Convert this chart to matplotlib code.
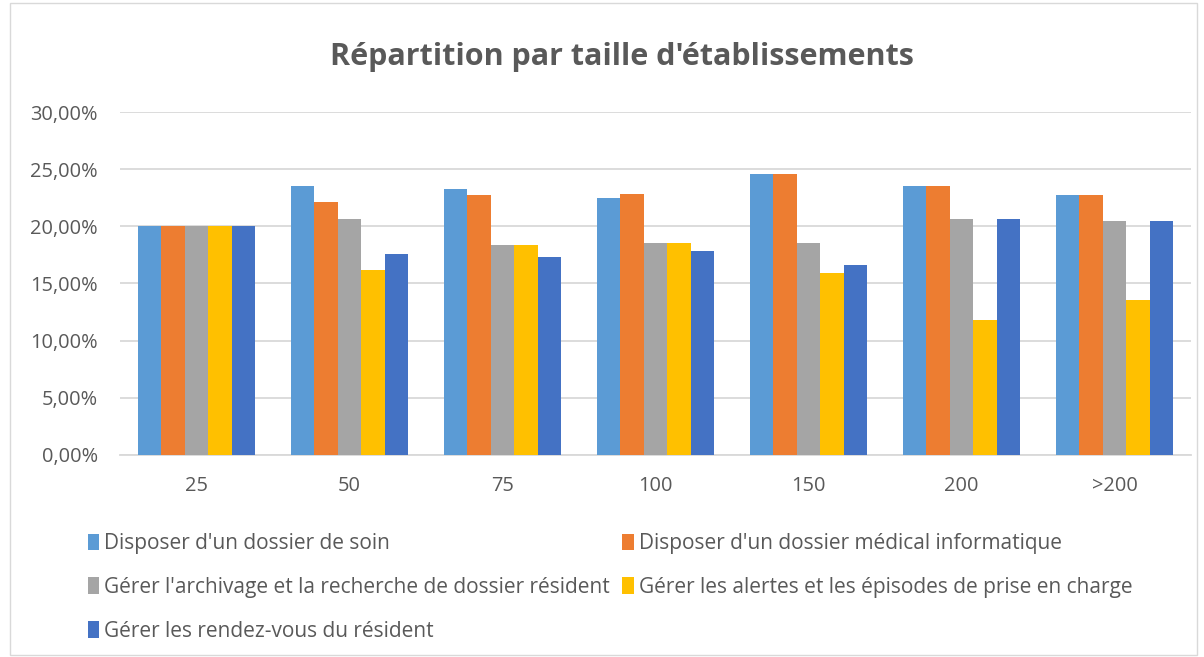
import numpy as np
import matplotlib.pyplot as plt
from matplotlib.patches import Rectangle, Patch
from matplotlib.ticker import FuncFormatter

categories = ["25", "50", "75", "100", "150", "200", ">200"]
series_names = [
    "Disposer d'un dossier de soin",
    "Disposer d'un dossier médical informatique",
    "Gérer l'archivage et la recherche de dossier résident",
    "Gérer les alertes et les épisodes de prise en charge",
    "Gérer les rendez-vous du résident",
]
dossier_soin = [20.0, 23.5, 23.25, 22.45, 24.55, 23.5, 22.7]
dossier_medical = [20.0, 22.1, 22.7, 22.8, 24.55, 23.5, 22.7]
archivage = [20.0, 20.6, 18.4, 18.5, 18.5, 20.6, 20.5]
alertes = [20.0, 16.2, 18.4, 18.5, 15.9, 11.8, 13.6]
rendez_vous = [20.0, 17.6, 17.3, 17.8, 16.6, 20.6, 20.5]
series = [dossier_soin, dossier_medical, archivage, alertes, rendez_vous]
colors = ["#5B9BD5", "#ED7D31", "#A5A5A5", "#FFC000", "#4472C4"]

txt = "#595959"
plt.rcParams['font.family'] = ['Open Sans', 'DejaVu Sans']

fig = plt.figure(figsize=(12.04, 6.57), dpi=100)
ax = fig.add_axes([0.0997, 0.3075, 0.8895, 0.522])

x = np.arange(len(categories))
w = 0.153
for i, (vals, c) in enumerate(zip(series, colors)):
    ax.bar(x + (i - 2) * w, vals, width=w, color=c, label=series_names[i], zorder=3)

ax.set_xlim(-0.5, len(categories) - 0.5)
ax.set_ylim(0, 30)
ax.set_yticks(np.arange(0, 31, 5))
ax.yaxis.set_major_formatter(FuncFormatter(lambda v, p: ("%.2f%%" % v).replace(".", ",")))
ax.set_xticks(x)
ax.set_xticklabels(categories)
ax.grid(axis="y", color="#D9D9D9", lw=1.3, zorder=0)
for s in ["top", "right", "left"]:
    ax.spines[s].set_visible(False)
ax.spines["bottom"].set_color("#D9D9D9")
ax.spines["bottom"].set_linewidth(1.3)
ax.tick_params(length=0, labelsize=14.4, colors=txt)
ax.tick_params(axis="x", pad=15)
ax.tick_params(axis="y", pad=16)

fig.text(0.5166, 0.913, "Répartition par taille d'établissements", ha="center", va="center",
         fontsize=22, fontweight="bold", color=txt)

handles = [Patch(facecolor=c) for c in colors]
order = [0, 2, 4, 1, 3]
fig.legend([handles[i] for i in order], [series_names[i] for i in order],
           loc="upper left", bbox_to_anchor=(0.066, 0.201), ncol=2, frameon=False,
           fontsize=15, labelcolor=txt, handlelength=0.55, handleheight=0.85,
           handletextpad=0.25, columnspacing=0.58, labelspacing=1.09, borderaxespad=0)

fig.patches.append(Rectangle((0.008, 0.003), 0.986, 0.992, transform=fig.transFigure,
                             fill=False, edgecolor="#D9D9D9", lw=1))

fig.savefig("out.png", dpi=100)
